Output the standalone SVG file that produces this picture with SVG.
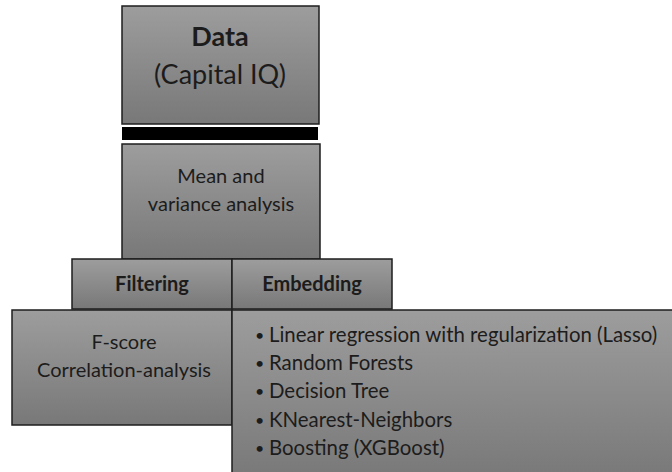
<svg xmlns="http://www.w3.org/2000/svg" width="672" height="472" viewBox="0 0 672 472">
<defs>
<linearGradient id="g" x1="0" y1="0" x2="0" y2="1">
<stop offset="0" stop-color="#9d9d9d"/>
<stop offset="1" stop-color="#787878"/>
</linearGradient>
<style>
.box{fill:url(#g);stroke:#1e1e1e;stroke-width:1.5}
text{font-family:Lato,"Liberation Sans",sans-serif;fill:#1c1c1c}
.c{text-anchor:middle}
.b{font-weight:bold}
.t{font-size:20px}
.l{font-size:20.4px}
.d{font-size:16px}
.h{font-size:27px}
</style>
</defs>
<rect width="672" height="472" fill="#ffffff"/>
<g id="data">
<rect class="box" x="122" y="6" width="197" height="118"/>
<text class="c b h" x="220" y="46">Data</text>
<text class="c h" x="220" y="84">(Capital IQ)</text>
</g>
<g id="connectors">
<rect x="122" y="127" width="196" height="13" fill="#000000"/>
</g>
<g id="mean">
<rect class="box" x="122" y="144" width="198" height="115"/>
<text class="c t" x="221" y="183">Mean and</text>
<text class="c t" x="221" y="211">variance analysis</text>
</g>
<g id="filtering">
<rect class="box" x="72" y="259" width="160" height="50"/>
<text class="c b t" x="152" y="291">Filtering</text>
</g>
<g id="embedding">
<rect class="box" x="232" y="259" width="160" height="50"/>
<text class="c b t" x="312" y="291">Embedding</text>
</g>
<g id="fscore">
<rect class="box" x="12" y="310" width="220" height="115"/>
<text class="c t" x="124" y="349">F-score</text>
<text class="c t" x="124" y="377">Correlation-analysis</text>
</g>
<g id="methods">
<rect class="box" x="232" y="310" width="445" height="170"/>
<g class="d">
<text x="255" y="341">•</text>
<text x="255" y="369">•</text>
<text x="255" y="397">•</text>
<text x="255" y="426">•</text>
<text x="255" y="454">•</text>
</g>
<g class="l">
<text x="269" y="342">Linear regression with regularization (Lasso)</text>
<text x="269" y="370">Random Forests</text>
<text x="269" y="398">Decision Tree</text>
<text x="269" y="427">KNearest-Neighbors</text>
<text x="269" y="455">Boosting (XGBoost)</text>
</g>
</g>
</svg>
